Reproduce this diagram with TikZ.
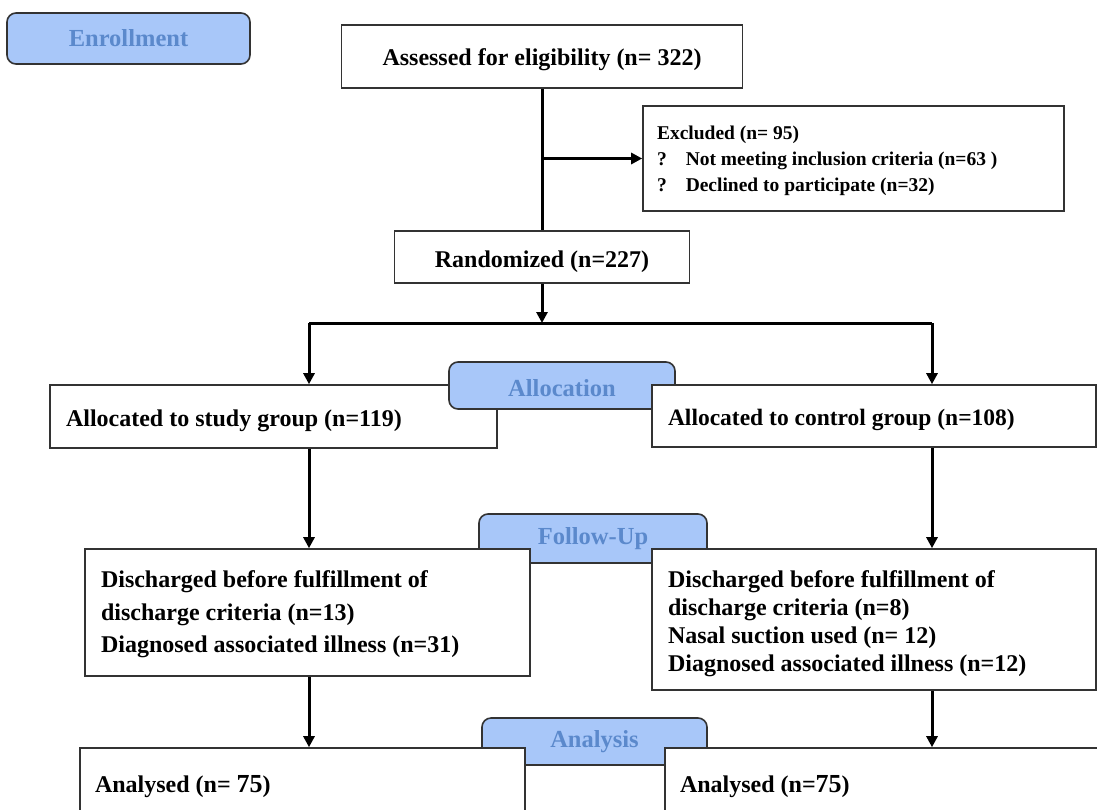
\documentclass[tikz,border=0pt]{standalone}
\usepackage{fontspec}
\setmainfont{Liberation Serif}
\usetikzlibrary{arrows.meta,calc}
\definecolor{lblfill}{HTML}{A8C7F9}
\definecolor{lbltext}{HTML}{5B89CC}
\definecolor{edge}{HTML}{333333}
\newcommand{\dropby}[2]{\raisebox{-#1}[\height][\depth]{#2}}
\newcommand{\shifted}[3]{\raisebox{-#1}[\height][\depth]{\parbox{#2}{\raggedright #3}}}
\tikzset{
  box/.style={draw=edge, fill=white, line width=1.6pt, inner sep=0pt, rectangle},
  lbl/.style={draw=edge, fill=lblfill, line width=1.6pt, rounded corners=9pt, inner sep=0pt,
     text=lbltext, font=\fontsize{24.5}{26}\selectfont\bfseries},
  main/.style={font=\fontsize{24}{28}\selectfont\bfseries},
  conn/.style={line width=3pt, black},
  arr/.style={conn, -{Triangle[length=11pt,width=11pt]}}
}
\begin{document}
\begin{tikzpicture}[x=1pt,y=-1pt]
\useasboundingbox (0,0) rectangle (1097,809);
% Enrollment label
\node[lbl, minimum width=243pt, minimum height=51pt] (enr) at (128.5,38.5) {Enrollment};
% Assessed
\node[box, main, minimum width=401pt, minimum height=63pt] (ass) at (542,56.5) {\dropby{3pt}{Assessed for eligibility (n= 322)}};
% Excluded
\node[box, minimum width=421pt, minimum height=105pt,
      font=\fontsize{19.5}{26}\selectfont\bfseries] (exc) at (853.5,158.5)
  {\shifted{2pt}{393pt}{Excluded (n= 95)\\
   ?\hspace{19pt}Not meeting inclusion criteria (n=63 )\\
   ?\hspace{19pt}Declined to participate (n=32)}};
% Randomized
\node[box, main, minimum width=295pt, minimum height=52pt] (rand) at (542,257) {\dropby{5pt}{Randomized (n=227)}};
\coordinate (split) at (542,323);
\coordinate (sl) at (309,323);
\coordinate (sr) at (932,323);
% Allocation row
\node[box, main, minimum width=447pt, minimum height=63pt] (study) at (273.5,416.5) {\shifted{4pt}{415pt}{Allocated to study group (n=119)}};
\node[lbl, minimum width=226pt, minimum height=47pt] (alloc) at (562,385.5) {\dropby{2.5pt}{Allocation}};
\node[box, main, minimum width=444pt, minimum height=62pt, font=\fontsize{23.5}{28}\selectfont\bfseries] (ctrl) at (874,416) {\shifted{4pt}{412pt}{Allocated to control group (n=108)}};
% Follow-up row
\node[lbl, minimum width=228pt, minimum height=49pt] (fu) at (593,538.5) {Follow-Up};
\node[box, main, minimum width=445pt, minimum height=127pt,
      font=\fontsize{24}{32.5}\selectfont\bfseries] (dl) at (307.5,612.5)
  {\shifted{2pt}{413pt}{Discharged before fulfillment of\\discharge criteria (n=13)\\Diagnosed associated illness (n=31)}};
\node[box, main, minimum width=444pt, minimum height=141pt,
      font=\fontsize{24}{28}\selectfont\bfseries] (dr) at (874,619.5)
  {\shifted{4pt}{412pt}{Discharged before fulfillment of\\discharge criteria (n=8)\\Nasal suction used (n= 12)\\Diagnosed associated illness (n=12)}};
% Analysis row
\node[lbl, minimum width=225pt, minimum height=47pt] (ana) at (594.5,741.5) {Analysis};
\node[box, main, minimum width=445pt, minimum height=70pt] (al) at (302.5,783) {\shifted{4pt}{415pt}{Analysed (n= {\fontsize{26}{28}\selectfont 75})}};
\node[box, main, minimum width=445pt, minimum height=70pt] (ar) at (887.5,783) {\shifted{4pt}{415pt}{Analysed (n={\fontsize{26}{28}\selectfont 75})}};
% connectors
\draw[conn] (ass.south) -- (rand.north);
\draw[arr] (ass.south |- exc.west) -- (exc.west);
\draw[arr] (rand.south) -- (split);
\draw[conn] (sl) -- (sr);
\draw[arr] (sl) -- (sl |- study.north);
\draw[arr] (sr) -- (sr |- ctrl.north);
\draw[arr] (sl |- study.south) -- (sl |- dl.north);
\draw[arr] (sr |- ctrl.south) -- (sr |- dr.north);
\draw[arr] (sl |- dl.south) -- (sl |- al.north);
\draw[arr] (sr |- dr.south) -- (sr |- ar.north);
\end{tikzpicture}
\end{document}
